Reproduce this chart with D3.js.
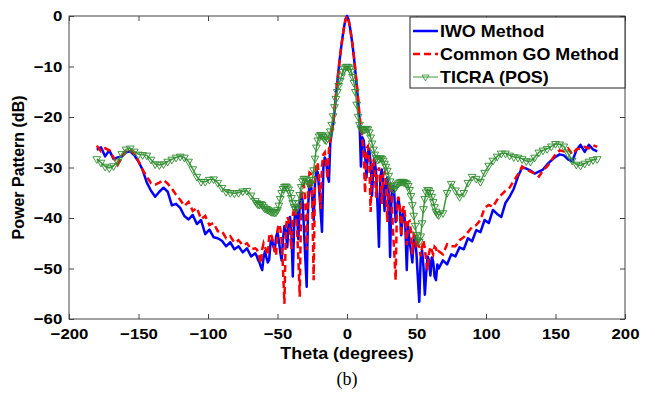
<!DOCTYPE html>
<html>
<head>
<meta charset="utf-8">
<script src="https://cdn.jsdelivr.net/npm/d3@7"></script>
<style>
  body { margin: 0; background: #fff; }
  svg { display: block; }
</style>
</head>
<body>
<div id="chart"></div>
<script>
// angles (deg): coarse in the far lobes, 1 deg near boresight
const theta = [
  -180,-177,-174,-171,-168,-165,-162,-159,-156,-153,-150,-147,-144,-141,-138,-135,-132,-129,-126,-123,
  -120,-117,-114,-111,-108,-105,-102,-99,-96,-93,-90,-87,-84,-81,-78,-75,-72,-69,-66,
  -65,-64,-63,-62,-61,-60,-59,-58,-57,-56,-55,-54,-53,-52,-51,-50,-49,-48,-47,-46,
  -45,-44,-43,-42,-41,-40,-39,-38,-37,-36,-35,-34,-33,-32,-31,-30,-29,-28,-27,-26,
  -25,-24,-23,-22,-21,-20,-19,-18,-17,-16,-15,-14,-13,-12,-11,-10,-9,-8,-7,-6,
  -5,-4,-3,-2,-1,0,1,2,3,4,5,6,7,8,9,10,11,12,13,14,15,16,17,18,19,20,
  21,22,23,24,25,26,27,28,29,30,31,32,33,34,35,36,37,38,39,40,
  41,42,43,44,45,46,47,48,49,50,51,52,53,54,55,56,57,58,59,60,61,62,63,64,65,
  66,69,72,75,78,81,84,87,90,93,96,99,102,105,108,111,114,117,120,123,
  126,129,132,135,138,141,144,147,150,153,156,159,162,165,168,171,174,177,180
];

const iwoDb = [
  -26.5,-26.0,-27.8,-26.6,-28.3,-28.0,-27.8,-27.0,-26.8,-27.6,
  -28.8,-30.5,-33.0,-34.6,-35.8,-34.8,-34.0,-34.8,-37.5,-37.2,
  -38.0,-39.6,-40.3,-39.4,-41.2,-40.4,-43.2,-42.3,-43.8,-44.0,
  -44.5,-45.6,-44.8,-46.2,-45.6,-46.8,-46.0,-47.6,-47.0,
  -47.5,-48.3,-48.8,-49.6,-50.3,-47.8,-46.6,-47.8,-48.8,-48.3,
  -45.0,-44.2,-45.6,-46.4,-43.7,-42.8,-44.5,-46.8,-48.4,-44.0,
  -41.6,-42.5,-45.8,-41.0,-39.8,-42.6,-51.6,-41.2,-37.8,-38.8,
  -44.2,-37.0,-35.2,-36.5,-42.0,-48.0,-53.6,-38.0,-32.8,-33.2,
  -36.0,-40.4,-33.0,-30.6,-31.0,-34.5,-38.6,-42.7,-30.0,-28.0,
  -28.6,-31.5,-32.8,-25.0,-23.2,-21.2,-18.8,-16.0,-13.2,-10.5,
  -8.0,-5.8,-3.8,-2.0,-0.6,
  0,
  -0.6,-2.0,-3.8,-5.8,-8.2,-11.0,-13.8,-16.8,-20.6,-29.8,
  -24.0,-24.6,-27.4,-32.0,-27.0,-26.4,-29.0,-35.6,-30.0,-28.6,
  -31.2,-38.0,-45.7,-31.8,-30.4,-32.6,-38.6,-33.4,-32.0,-35.0,
  -47.7,-35.6,-33.6,-35.2,-40.8,-37.6,-36.2,-38.0,-43.4,-39.4,
  -38.6,-42.0,-50.3,-41.8,-44.6,-46.5,-48.8,-44.6,-43.8,-47.2,
  -52.0,-56.6,-48.0,-46.4,-49.6,-55.2,-50.8,-47.6,-48.4,-51.4,
  -47.8,-48.6,-51.6,-52.3,-49.2,
  -50.0,-48.4,-49.2,-47.2,-47.6,-45.8,-46.2,-44.0,-44.6,-42.4,
  -42.8,-40.4,-41.0,-38.4,-39.2,-39.8,-37.0,-35.8,-34.2,-31.8,
  -30.0,-30.2,-30.6,-31.2,-30.8,-30.4,-29.4,-28.6,-27.9,-27.4,
  -27.6,-28.4,-28.8,-26.6,-25.5,-26.9,-25.5,-26.4,-26.8
];

const goDb = [
  -25.7,-26.8,-26.2,-26.6,-28.0,-29.5,-28.0,-26.6,-26.4,-27.4,
  -28.8,-30.5,-31.8,-33.1,-33.4,-33.0,-32.5,-33.2,-34.2,-35.4,
  -36.4,-37.6,-36.8,-38.6,-38.0,-40.2,-39.6,-41.4,-41.0,-42.6,
  -42.6,-44.0,-43.6,-44.9,-44.4,-45.4,-45.0,-46.2,-46.0,
  -46.2,-46.8,-47.8,-49.0,-46.2,-45.0,-45.8,-46.4,-47.4,-43.7,
  -43.0,-43.8,-45.0,-46.8,-47.4,-42.4,-41.2,-42.0,-44.6,-50.5,
  -57.0,-42.0,-39.8,-40.4,-43.0,-46.2,-39.6,-37.8,-38.4,-42.0,
  -48.0,-55.6,-36.6,-33.8,-33.4,-37.0,-46.4,-34.2,-31.0,-31.2,
  -36.5,-52.3,-31.6,-29.0,-29.4,-32.6,-38.2,-29.6,-27.4,-27.0,
  -29.2,-32.2,-26.4,-24.6,-23.0,-21.0,-18.6,-15.8,-13.0,-10.4,
  -8.0,-5.8,-3.8,-2.0,-0.6,
  0,
  -0.6,-2.0,-3.8,-5.8,-8.0,-10.6,-13.4,-16.4,-19.6,-22.0,
  -24.0,-27.6,-35.1,-26.2,-25.8,-28.6,-38.8,-28.6,-28.4,-31.0,
  -36.0,-31.0,-30.0,-31.6,-37.2,-31.6,-31.0,-33.2,-40.8,-33.6,
  -32.8,-35.0,-42.0,-47.0,-52.3,-36.6,-35.8,-37.8,-43.6,-38.4,
  -37.6,-40.0,-45.4,-40.8,-40.6,-42.6,-47.2,-43.2,-43.6,-46.0,
  -45.0,-45.7,-47.6,-45.8,-44.4,-46.0,-48.6,-50.3,-47.0,-45.7,
  -46.4,-47.2,-45.7,-46.0,-47.0,
  -46.6,-47.2,-45.2,-45.6,-45.6,-44.4,-43.8,-42.8,-41.8,-41.4,
  -40.4,-38.0,-37.4,-37.8,-36.4,-35.4,-34.6,-34.0,-32.6,-31.4,
  -29.8,-30.4,-30.8,-31.2,-31.8,-30.6,-29.8,-28.6,-27.4,-26.6,
  -26.8,-26.2,-27.4,-26.4,-26.2,-25.9,-26.2,-25.6,-25.9
];

const ticraDb = [
  -28.3,-29.0,-29.8,-30.1,-29.7,-28.8,-27.3,-26.4,-26.2,-26.8,
  -27.4,-27.5,-27.6,-28.4,-29.3,-29.5,-29.3,-28.8,-28.4,-28.0,
  -27.8,-28.0,-28.8,-30.3,-31.8,-32.8,-32.8,-32.4,-32.3,-33.0,
  -34.0,-34.8,-35.0,-35.1,-35.0,-34.7,-34.6,-35.5,-36.6,
  -37.0,-37.3,-37.3,-37.2,-37.4,-37.8,-38.1,-38.2,-38.3,-38.5,
  -38.7,-38.8,-38.8,-38.9,-38.8,-38.4,-37.5,-36.2,-35.0,-34.2,
  -33.8,-33.7,-33.9,-34.3,-35.0,-36.0,-37.0,-37.8,-38.2,-38.0,
  -37.0,-35.4,-33.8,-32.7,-32.2,-32.2,-32.5,-33.0,-33.2,-33.1,
  -32.4,-30.5,-28.2,-26.0,-24.6,-23.8,-23.5,-23.6,-23.9,-24.4,
  -24.6,-24.2,-23.6,-22.8,-21.5,-19.8,-18.0,-16.4,-15.0,-13.8,
  -12.8,-11.9,-11.0,-10.4,-10.1,
  -10.0,
  -10.1,-10.4,-11.0,-12.0,-13.2,-15.0,-17.5,-19.9,-21.5,-22.3,
  -22.6,-22.5,-22.4,-22.3,-22.4,-23.0,-24.0,-25.2,-26.4,-27.4,
  -28.1,-28.4,-28.3,-28.1,-28.2,-28.6,-29.2,-29.8,-30.6,-31.6,
  -32.7,-33.6,-34.2,-34.3,-33.9,-33.4,-33.1,-32.9,-32.8,-32.8,
  -32.9,-33.0,-33.2,-33.6,-34.4,-35.6,-37.4,-39.5,-41.5,-43.3,
  -44.4,-44.7,-43.6,-41.0,-38.2,-36.2,-34.9,-34.4,-34.5,-35.0,
  -35.8,-36.8,-37.8,-38.7,-39.2,
  -39.4,-39.0,-35.0,-33.2,-34.5,-35.8,-35.0,-33.0,-31.8,-32.2,
  -32.8,-31.0,-29.6,-28.6,-27.8,-27.2,-27.2,-27.6,-27.9,-28.0,
  -28.3,-28.7,-28.8,-28.0,-27.0,-26.6,-26.3,-25.8,-25.3,-25.4,
  -25.8,-27.2,-28.6,-29.4,-29.6,-29.2,-28.8,-28.5,-28.3
];

const seriesNames = ["IWO Method", "Common GO Method", "TICRA (POS)"];
const xTicks = [-200, -150, -100, -50, 0, 50, 100, 150, 200];
const yTicks = [0, -10, -20, -30, -40, -50, -60];

const W = 655, H = 395;
const margin = { top: 16, right: 30, bottom: 76, left: 69 };
const width = W - margin.left - margin.right;
const height = H - margin.top - margin.bottom;
const font = "'Liberation Sans', Arial, sans-serif";
const stretch = "scale(1.12,1)"; // source figure is stretched horizontally

const svg = d3.select("#chart").append("svg")
  .attr("width", W)
  .attr("height", H);

const chart = svg.append("g")
  .attr("transform", `translate(${margin.left},${margin.top})`);

const x = d3.scaleLinear().domain([-200, 200]).range([0, width]);
const y = d3.scaleLinear().domain([-60, 0]).range([height, 0]);

// axes: ticks point inwards on all four sides, like matlab's box
function styleAxis(g) {
  g.select(".domain").remove();
  g.selectAll(".tick line").attr("stroke", "#444");
  g.selectAll(".tick text")
    .attr("fill", "#000")
    .style("font-family", font)
    .style("font-size", "15px")
    .style("font-weight", "bold")
    .attr("transform", stretch);
}

chart.append("g")
  .attr("transform", `translate(0,${height})`)
  .call(d3.axisBottom(x).tickValues(xTicks).tickSizeInner(-5).tickSizeOuter(0).tickPadding(9))
  .call(styleAxis);

chart.append("g")
  .call(d3.axisTop(x).tickValues(xTicks).tickSizeInner(-5).tickSizeOuter(0).tickFormat(""))
  .call(styleAxis);

chart.append("g")
  .call(d3.axisLeft(y).tickValues(yTicks).tickSizeInner(-5).tickSizeOuter(0).tickPadding(6))
  .call(styleAxis);

chart.append("g")
  .attr("transform", `translate(${width},0)`)
  .call(d3.axisRight(y).tickValues(yTicks).tickSizeInner(-5).tickSizeOuter(0).tickFormat(""))
  .call(styleAxis);

chart.append("rect")
  .attr("width", width)
  .attr("height", height)
  .attr("fill", "none")
  .attr("stroke", "#444")
  .attr("stroke-width", 1);

const line = values => d3.line()
  .x((d, i) => x(theta[i]))
  .y(d => y(d))(values);

chart.append("path")
  .attr("d", line(iwoDb))
  .attr("fill", "none")
  .attr("stroke", "#0000ff")
  .attr("stroke-width", 2.5)
  .attr("stroke-linejoin", "round");

chart.append("path")
  .attr("d", line(goDb))
  .attr("fill", "none")
  .attr("stroke", "#ff0000")
  .attr("stroke-width", 2.5)
  .attr("stroke-dasharray", "7,4");

chart.append("path")
  .attr("d", line(ticraDb))
  .attr("fill", "none")
  .attr("stroke", "#3c9a3c")
  .attr("stroke-width", 1.5);

const tri = d3.symbol().type(d3.symbolTriangle).size(26);

chart.selectAll(".ticra-point")
  .data(ticraDb)
  .enter()
  .append("path")
  .attr("class", "ticra-point")
  .attr("d", tri)
  .attr("transform", (d, i) => `translate(${x(theta[i])},${y(d)}) rotate(180)`)
  .attr("fill", "none")
  .attr("stroke", "#2e8b2e")
  .attr("stroke-width", 0.9);

// legend
const legend = svg.append("g").attr("transform", "translate(410,17)");

legend.append("rect")
  .attr("width", 215)
  .attr("height", 71)
  .attr("fill", "#fff")
  .attr("stroke", "#222")
  .attr("stroke-width", 1);

const rowY = [14, 37, 60];
const sampleStyles = [
  { stroke: "#0000ff", width: 2.5, dash: null },
  { stroke: "#ff0000", width: 2.5, dash: "7,4" },
  { stroke: "#3c9a3c", width: 1, dash: null }
];

seriesNames.forEach((name, i) => {
  const s = sampleStyles[i];
  legend.append("line")
    .attr("x1", 3).attr("x2", 28)
    .attr("y1", rowY[i]).attr("y2", rowY[i])
    .attr("stroke", s.stroke)
    .attr("stroke-width", s.width)
    .attr("stroke-dasharray", s.dash);

  if (i === 2) {
    legend.append("path")
      .attr("d", d3.symbol().type(d3.symbolTriangle).size(20))
      .attr("transform", `translate(15.5,${rowY[i]}) rotate(180)`)
      .attr("fill", "none")
      .attr("stroke", "#2e8b2e")
      .attr("stroke-width", 0.8);
  }

  legend.append("text")
    .attr("transform", `translate(30,${rowY[i] + 5.5}) ${stretch}`)
    .style("font-family", font)
    .style("font-size", "16px")
    .style("font-weight", "bold")
    .text(name);
});

// axis titles and caption
svg.append("text")
  .attr("transform", `translate(${margin.left + width / 2},359) ${stretch}`)
  .attr("text-anchor", "middle")
  .style("font-family", font)
  .style("font-size", "16px")
  .style("font-weight", "bold")
  .text("Theta (degrees)");

svg.append("text")
  .attr("transform", `translate(24,${margin.top + height / 2}) rotate(-90)`)
  .attr("text-anchor", "middle")
  .style("font-family", font)
  .style("font-size", "16px")
  .style("font-weight", "bold")
  .text("Power Pattern (dB)");

svg.append("text")
  .attr("x", margin.left + width / 2)
  .attr("y", 385)
  .attr("text-anchor", "middle")
  .style("font-family", "'Liberation Serif', 'Times New Roman', serif")
  .style("font-size", "18px")
  .text("(b)");
</script>
</body>
</html>
